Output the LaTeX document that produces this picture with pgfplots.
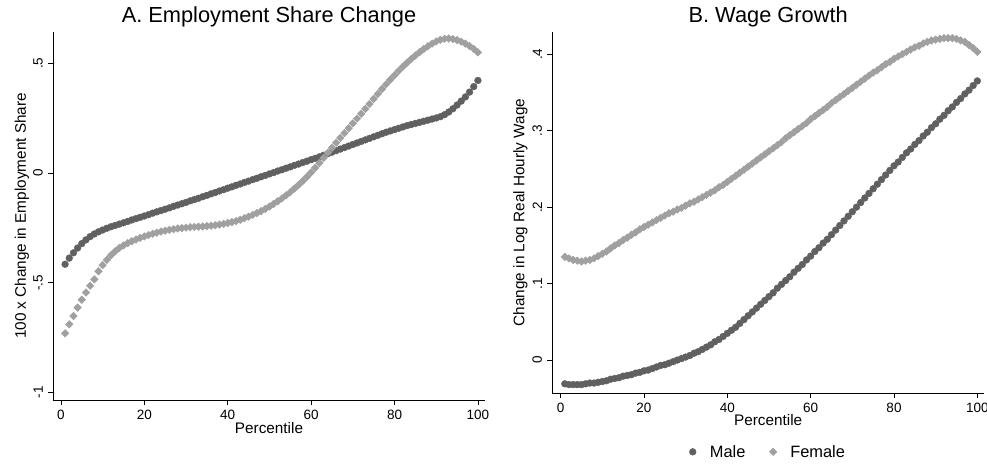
\documentclass[border=0pt]{standalone}
\usepackage{fontspec}
\setmainfont{Liberation Sans}
\usepackage{pgfplots}
\usepackage{pgfplotstable}
\pgfplotsset{compat=1.18}
\definecolor{malegray}{RGB}{96,96,96}
\definecolor{femgray}{RGB}{160,160,160}

% percentile, male, female
\pgfplotstableread{
x m f
1 -0.416 -0.731
2 -0.388 -0.690
3 -0.364 -0.652
4 -0.342 -0.614
5 -0.322 -0.578
6 -0.305 -0.545
7 -0.290 -0.514
8 -0.278 -0.485
9 -0.268 -0.448
10 -0.260 -0.420
11 -0.252 -0.396
12 -0.245 -0.375
13 -0.239 -0.357
14 -0.233 -0.342
15 -0.227 -0.330
16 -0.221 -0.320
17 -0.214 -0.311
18 -0.208 -0.303
19 -0.202 -0.296
20 -0.196 -0.289
21 -0.190 -0.283
22 -0.183 -0.277
23 -0.177 -0.272
24 -0.171 -0.267
25 -0.165 -0.263
26 -0.159 -0.259
27 -0.152 -0.256
28 -0.146 -0.253
29 -0.140 -0.251
30 -0.134 -0.249
31 -0.127 -0.247
32 -0.121 -0.246
33 -0.115 -0.245
34 -0.108 -0.244
35 -0.102 -0.242
36 -0.095 -0.240
37 -0.089 -0.238
38 -0.082 -0.235
39 -0.076 -0.232
40 -0.069 -0.228
41 -0.063 -0.224
42 -0.056 -0.219
43 -0.050 -0.213
44 -0.043 -0.206
45 -0.037 -0.199
46 -0.030 -0.191
47 -0.024 -0.183
48 -0.017 -0.174
49 -0.011 -0.164
50 -0.004 -0.153
51 0.002 -0.141
52 0.009 -0.129
53 0.015 -0.116
54 0.022 -0.102
55 0.028 -0.087
56 0.035 -0.071
57 0.041 -0.054
58 0.048 -0.036
59 0.054 -0.017
60 0.061 0.003
61 0.067 0.024
62 0.074 0.046
63 0.081 0.069
64 0.088 0.092
65 0.095 0.115
66 0.102 0.138
67 0.109 0.160
68 0.116 0.182
69 0.123 0.204
70 0.130 0.226
71 0.137 0.248
72 0.144 0.270
73 0.151 0.292
74 0.158 0.315
75 0.165 0.338
76 0.172 0.361
77 0.179 0.383
78 0.186 0.405
79 0.192 0.426
80 0.198 0.446
81 0.204 0.466
82 0.210 0.485
83 0.216 0.503
84 0.221 0.520
85 0.226 0.536
86 0.231 0.551
87 0.236 0.565
88 0.241 0.578
89 0.246 0.590
90 0.251 0.600
91 0.257 0.607
92 0.266 0.612
93 0.278 0.613
94 0.293 0.611
95 0.310 0.606
96 0.328 0.599
97 0.347 0.590
98 0.369 0.579
99 0.394 0.566
100 0.422 0.550
}\empdata

\pgfplotstableread{
x m f
1 -0.031 0.135
2 -0.032 0.133
3 -0.032 0.131
4 -0.032 0.130
5 -0.032 0.129
6 -0.031 0.130
7 -0.030 0.131
8 -0.030 0.133
9 -0.029 0.136
10 -0.028 0.139
11 -0.027 0.142
12 -0.025 0.146
13 -0.024 0.150
14 -0.023 0.153
15 -0.021 0.157
16 -0.020 0.160
17 -0.019 0.164
18 -0.017 0.167
19 -0.016 0.171
20 -0.014 0.174
21 -0.013 0.177
22 -0.011 0.180
23 -0.009 0.183
24 -0.007 0.186
25 -0.006 0.189
26 -0.004 0.192
27 -0.002 0.194
28 0.000 0.197
29 0.002 0.199
30 0.004 0.202
31 0.006 0.205
32 0.009 0.207
33 0.011 0.210
34 0.014 0.213
35 0.017 0.216
36 0.020 0.219
37 0.024 0.222
38 0.027 0.226
39 0.031 0.229
40 0.035 0.233
41 0.039 0.237
42 0.043 0.241
43 0.048 0.245
44 0.053 0.249
45 0.058 0.253
46 0.063 0.257
47 0.068 0.261
48 0.073 0.265
49 0.078 0.269
50 0.083 0.273
51 0.088 0.277
52 0.094 0.281
53 0.099 0.285
54 0.104 0.290
55 0.109 0.294
56 0.115 0.298
57 0.120 0.302
58 0.125 0.306
59 0.131 0.310
60 0.136 0.315
61 0.142 0.319
62 0.147 0.323
63 0.153 0.327
64 0.158 0.331
65 0.164 0.336
66 0.170 0.340
67 0.176 0.344
68 0.182 0.348
69 0.188 0.352
70 0.194 0.356
71 0.200 0.360
72 0.206 0.364
73 0.212 0.368
74 0.218 0.372
75 0.224 0.376
76 0.230 0.379
77 0.236 0.383
78 0.242 0.387
79 0.248 0.390
80 0.254 0.394
81 0.259 0.397
82 0.265 0.400
83 0.271 0.403
84 0.276 0.406
85 0.282 0.409
86 0.287 0.411
87 0.293 0.414
88 0.298 0.416
89 0.304 0.418
90 0.309 0.419
91 0.315 0.420
92 0.320 0.421
93 0.326 0.421
94 0.331 0.421
95 0.337 0.420
96 0.342 0.418
97 0.348 0.416
98 0.353 0.412
99 0.359 0.408
100 0.365 0.403
}\wagedata

\pgfplotsset{
  stata/.style={
    scale only axis,
    axis lines*=left,
    axis line style={black, line width=0.8bp},
    tick align=outside,
    major tick length=5bp,
    tick style={black, line width=0.8bp},
    xtick={0,20,40,60,80,100},
    /pgf/number format/assume math mode=true,
    ticklabel style={font=\fontsize{13.5bp}{15bp}\selectfont},
    xticklabel shift=2bp,
    yticklabel style={rotate=90, anchor=south, inner sep=0pt},
    yticklabel shift=5bp,
    label style={font=\fontsize{15.3bp}{18bp}\selectfont},
    xlabel style={at={(axis description cs:0.5,0)}, anchor=base, yshift=-33bp},
    title style={font=\fontsize{21.8bp}{25bp}\selectfont, at={(axis description cs:0.5,1)}, anchor=base, yshift=4bp},
    clip=false,
  },
  malemk/.style={only marks, mark=*, mark size=3.4bp, color=malegray},
  femmk/.style={only marks, mark=square*, mark size=2.7bp, color=femgray, mark options={rotate=45}},
}

\begin{document}
\begin{tikzpicture}
\useasboundingbox (0,0) rectangle (987bp,464bp);

\begin{axis}[stata,
  at={(53bp,64bp)}, anchor=south west,
  width=432bp, height=368bp,
  xmin=-1.9, xmax=101.7, ymin=-1.035, ymax=0.643,
  ytick={-1,-0.5,0,0.5}, yticklabels={-1,-.5,0,.5},
  title={A. Employment Share Change},
  xlabel={Percentile},
  ylabel={100 x Change in Employment Share},
  ylabel style={at={(axis description cs:-0.0718,0.5)}, anchor=center},
]
\addplot[malemk] table[x=x, y=m] {\empdata};
\addplot[femmk] table[x=x, y=f] {\empdata};
\end{axis}

\begin{axis}[stata,
  at={(552.3bp,71bp)}, anchor=south west,
  width=431.7bp, height=361bp,
  xmin=-2, xmax=101.6, ymin=-0.043, ymax=0.429,
  ytick={0,0.1,0.2,0.3,0.4}, yticklabels={0,.1,.2,.3,.4},
  title={B. Wage Growth},
  xlabel={Percentile},
  ylabel={Change in Log Real Hourly Wage},
  ylabel style={at={(axis description cs:-0.0737,0.5)}, anchor=center},
  legend columns=2,
  legend image code/.code={\path[draw=none, fill=none] (15bp,0bp) circle (0.1bp);
    \draw[#1] plot coordinates {(0bp,0bp)};},
  legend style={at={(0.5,-0.163)}, anchor=center, draw=none, fill=none,
    font=\fontsize{16.4bp}{19bp}\selectfont,
    /tikz/every even column/.append style={column sep=22bp}},
]
\addplot[malemk] table[x=x, y=m] {\wagedata};
\addlegendentry{Male}
\addplot[femmk] table[x=x, y=f] {\wagedata};
\addlegendentry{Female}
\end{axis}
\end{tikzpicture}
\end{document}
